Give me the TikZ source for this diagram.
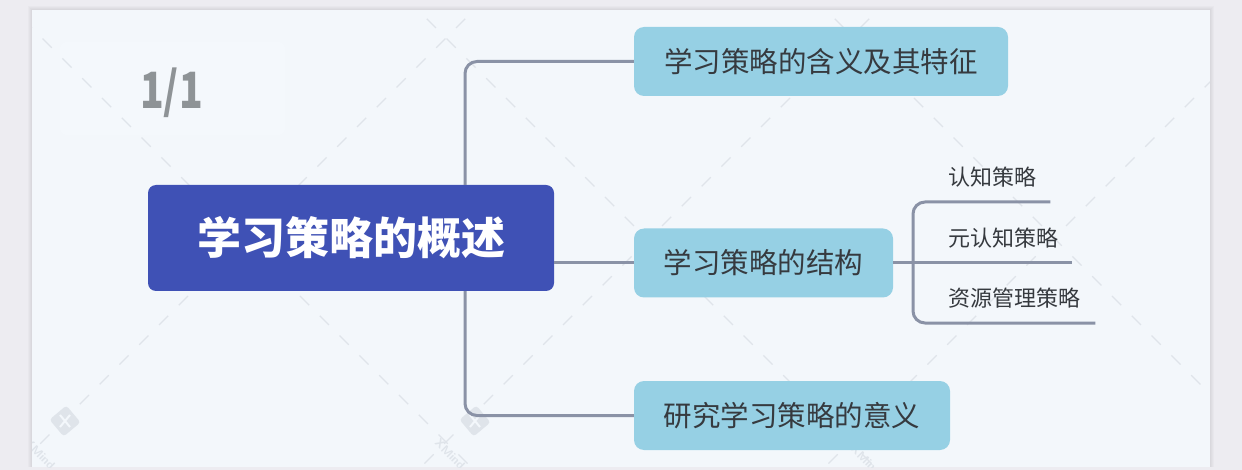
\documentclass[tikz,border=0pt]{standalone}
\usepackage{fontspec}
\newfontfamily\cjk{Noto Sans CJK SC}
\definecolor{outerbg}{HTML}{EDECF1}
\definecolor{panelc}{HTML}{F3F7FB}
\definecolor{pagebox}{HTML}{F4F8FC}
\definecolor{rootc}{HTML}{3F51B5}
\definecolor{childc}{HTML}{96D0E4}
\definecolor{linec}{HTML}{8A92A6}
\definecolor{txt}{HTML}{363A3F}
\definecolor{wm}{HTML}{DFE4EA}
\definecolor{pagec}{HTML}{8E9396}
\begin{document}
\begin{tikzpicture}[x=1pt,y=-1pt,
 rootbox/.style={fill=rootc, rounded corners=8pt, minimum width=406pt, minimum height=106pt, inner sep=0pt, text=white, font=\cjk\bfseries\fontsize{44}{44}\selectfont},
 childbox/.style={fill=childc, rounded corners=10pt, minimum height=69pt, inner sep=0pt, text=txt, font=\cjk\fontsize{28.5}{28.5}\selectfont},
 subtext/.style={anchor=south west, inner sep=0pt, text depth=16.6pt, text=txt, font=\cjk\fontsize{22}{22}\selectfont},
 conn/.style={draw=linec, line width=3pt, rounded corners=12pt},
 wmline/.style={draw=wm, line width=1.2pt, dash pattern=on 13pt off 15pt},
 wmlogo/.style={fill=wm, rounded corners=3pt, minimum size=22pt, inner sep=0pt, rotate=40},
 wmx/.style={draw=panelc, line width=2pt},
 wmtext/.style={rotate=-45, text=wm, inner sep=0pt, font=\sffamily\bfseries\fontsize{12}{12}\selectfont},
]
\useasboundingbox (0,0) rectangle (1242,470);
\fill[outerbg] (0,0) rectangle (1242,470);
\foreach \i in {1,2,3,4}{
  \fill[black, opacity=0.018] (32-\i,10-\i) rectangle (1210+\i,467);
}
\fill[panelc] (32,10) rectangle (1210,467);
\begin{scope}
\clip (32,10) rectangle (1210,467);
\fill[pagebox, rounded corners=6pt] (60,42) rectangle (285,135);
\foreach \c in {4,408,816}{
  \draw[wmline] (\c-100,-100) -- (\c+600,600);
}
\foreach \c in {484,888,1292}{
  \draw[wmline] (\c+100,-100) -- (\c-600,600);
}
\foreach \n/\px in {1/65,2/475}{
  \node[wmlogo] (wl\n) at (\px,421) {};
  \draw[wmx] ([shift={(-5,-6)}]wl\n.center) -- ([shift={(5,6)}]wl\n.center);
  \draw[wmx] ([shift={(5,-6)}]wl\n.center) -- ([shift={(-5,6)}]wl\n.center);
}
\node[wmtext] (wt1) at (40,454) {XMind};
\node[wmtext] (wt2) at (450,454) {XMind};
\node[wmtext] (wt3) at (866,460) {XMind};
\end{scope}

\node[text=pagec, inner sep=0pt, font=\cjk\bfseries\fontsize{50}{50}\selectfont] (pg) at (171.5,93) {\scalebox{0.78}[1]{1/1}};

\node[rootbox] (root) at (351,238) {学习策略的概述};
\node[childbox, minimum width=374pt] (c1) at (821,61.5) {学习策略的含义及其特征};
\node[childbox, minimum width=259pt] (c2) at (763.5,263) {学习策略的结构};
\node[childbox, minimum width=316pt] (c3) at (792,415.5) {研究学习策略的意义};
\node[subtext, text width=102pt] (s1) at (948,202) {认知策略};
\node[subtext, text width=124pt] (s2) at (948,263) {元认知策略};
\node[subtext, text width=147pt] (s3) at (948,323) {资源管理策略};

\coordinate (tk) at (465,0);
\coordinate (bk) at (913,0);
\draw[conn] (root.north -| tk) |- (c1.west);
\draw[conn] (root.south -| tk) |- (c3.west);
\draw[conn] (root.east |- c2.west) -- (c2.west);
\draw[conn] (s1.south east) -- (s1.south -| bk) -- (s3.south -| bk) -- (s3.south east);
\draw[conn] (c2.east) -- (s2.south east);
\end{tikzpicture}
\end{document}
